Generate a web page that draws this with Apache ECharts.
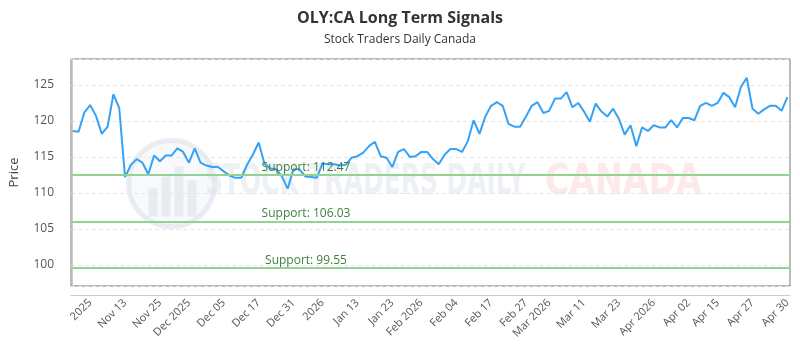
<!DOCTYPE html>
<html>
<head>
<meta charset="utf-8" />
<title>OLY:CA Long Term Signals</title>
<style type="text/css">
	html, body {margin:0;padding:0;background:#fff;}
	#chart {width:800px;height:350px;}
</style>
</head>
<body>
<div id="chart"></div>
<script src="https://cdn.jsdelivr.net/npm/echarts@6/dist/echarts.min.js"></script>
<script type="text/javascript">
// closing prices, one per trading day
const prices = [
	118.6, 118.5, 121.2, 122.2, 120.7, 118.2, 119.2, 123.7, 121.8, 112.2,
	113.9, 114.7, 114.2, 112.6, 115.2, 114.4, 115.2, 115.2, 116.2, 115.7,
	114.2, 116.2, 114.2, 113.8, 113.6, 113.6, 113.0, 112.4, 112.1, 112.1,
	113.9, 115.3, 117.0, 114.1, 113.4, 113.3, 112.3, 110.6, 113.3, 113.3,
	112.3, 112.2, 112.1, 114.1, 114.0, 114.0, 113.8, 113.9, 114.9, 115.1,
	115.6, 116.5, 117.1, 115.1, 114.9, 113.6, 115.7, 116.1, 115.0, 115.1,
	115.7, 115.7, 114.7, 114.0, 115.3, 116.1, 116.1, 115.7, 117.2, 120.1,
	118.2, 120.6, 122.1, 122.6, 122.1, 119.6, 119.2, 119.2, 120.6, 122.1,
	122.6, 121.1, 121.4, 123.1, 123.1, 124.0, 121.9, 122.5, 121.3, 119.9,
	122.4, 121.3, 120.6, 121.7, 120.3, 118.1, 119.4, 116.5, 119.1, 118.6,
	119.4, 119.1, 119.1, 120.1, 119.1, 120.4, 120.4, 120.1, 122.1, 122.5,
	122.1, 122.5, 123.9, 123.3, 121.9, 124.7, 126.0, 121.7, 121.0, 121.6,
	122.1, 122.1, 121.4, 123.3
];
// support levels
const supports = [112.47, 106.03, 99.55];
// x axis labels and the day index they sit on
const tickLabels = ['2025', 'Nov 13', 'Nov 25', 'Dec 2025', 'Dec 05', 'Dec 17', 'Dec 31', '2026',
	'Jan 13', 'Jan 23', 'Feb 2026', 'Feb 04', 'Feb 17', 'Feb 27', 'Mar 2026', 'Mar 11', 'Mar 23',
	'Apr 2026', 'Apr 02', 'Apr 15', 'Apr 27', 'Apr 30'];
const tickIndex = [3, 9, 15, 20, 26, 32, 38, 43, 49, 55, 60, 66, 72, 78, 82, 88, 94, 100, 106, 111, 117, 123];
// y axis labels
const yTicks = [100, 105, 110, 115, 120, 125];

const chart = echarts.init(document.getElementById('chart'));

const option = {
	animation: false,
	backgroundColor: '#fff',
	title: {
		text: 'OLY:CA Long Term Signals',
		subtext: 'Stock Traders Daily Canada',
		left: 'center',
		top: 5,
		itemGap: 8,
		textStyle: {fontFamily: 'Open Sans', fontSize: 16, fontWeight: 'bold', color: '#333'},
		subtextStyle: {fontFamily: 'Open Sans', fontSize: 12, color: '#333'}
	},
	graphic: [{
		type: 'group',
		left: 126, top: 138, z: 0, silent: true,
		children: [
			{type: 'circle', shape: {cx: 45, cy: 45, r: 43}, style: {fill: 'rgba(230,235,242,0.3)', stroke: 'rgba(220,226,235,0.6)', lineWidth: 5}},
			{type: 'rect', shape: {x: 22, y: 50, width: 9, height: 28}, style: {fill: 'rgba(220,226,235,0.6)'}},
			{type: 'rect', shape: {x: 35, y: 38, width: 9, height: 40}, style: {fill: 'rgba(220,226,235,0.6)'}},
			{type: 'rect', shape: {x: 48, y: 28, width: 9, height: 50}, style: {fill: 'rgba(220,226,235,0.6)'}},
			{type: 'rect', shape: {x: 61, y: 42, width: 9, height: 36}, style: {fill: 'rgba(220,226,235,0.6)'}}
		]
	}, {
		type: 'text', left: 205, top: 162, z: 0, silent: true,
		style: {text: 'STOCK TRADERS DAILY', font: 'bold 42px "DejaVu Sans Condensed"', fill: 'rgba(220,228,238,0.5)'},
		scaleX: 0.66
	}, {
		type: 'text', left: 545, top: 162, z: 0, silent: true,
		style: {text: 'CANADA', font: 'bold 42px "DejaVu Sans"', fill: 'rgba(252,212,212,0.5)'},
		scaleX: 0.79
	}],
	grid: {
		left: 67, right: 10, top: 59, bottom: 64,
		show: true,
		borderColor: '#777',
		borderWidth: 1
	},
	xAxis: {
		type: 'value',
		min: -0.3,
		max: 123.45,
		offset: 9,
		axisLine: {show: true, lineStyle: {color: '#ccc'}},
		axisTick: {show: false},
		splitLine: {show: false},
		axisLabel: {
			customValues: tickIndex,
			rotate: 45,
			margin: 6,
			fontFamily: 'Open Sans',
			fontSize: 11,
			color: '#555',
			formatter: v => tickLabels[tickIndex.indexOf(Math.round(v))] || ''
		}
	},
	yAxis: {
		type: 'value',
		name: 'Price',
		nameLocation: 'middle',
		nameGap: 40,
		nameTextStyle: {fontFamily: 'Open Sans', fontSize: 13, color: '#444'},
		min: 97.08,
		max: 128.6,
		offset: 10,
		axisLine: {show: true, lineStyle: {color: '#ccc'}},
		axisTick: {show: false},
		axisLabel: {
			customValues: yTicks,
			fontFamily: 'Open Sans',
			fontSize: 12,
			color: '#555',
			margin: 7
		},
		splitLine: {
			show: true,
			lineStyle: {color: '#e6e6e6', type: [4, 3]}
		}
	},
	series: [{
		type: 'line',
		data: prices.map((p, i) => [i, p]),
		showSymbol: false,
		z: 3,
		lineStyle: {color: '#36a2f5', width: 2},
		itemStyle: {color: '#36a2f5'},
		markLine: {
			silent: true,
			symbol: 'none',
			lineStyle: {color: '#94d294', width: 2, type: 'solid'},
			label: {
				position: 'insideStartTop',
				distance: [235, 2],
				align: 'center',
				fontFamily: 'Open Sans',
				fontSize: 12,
				color: '#3e7f3e',
				formatter: p => 'Support: ' + p.value
			},
			data: supports.map(s => ({yAxis: s}))
		}
	}]
};

chart.setOption(option);
</script>
</body>
</html>
